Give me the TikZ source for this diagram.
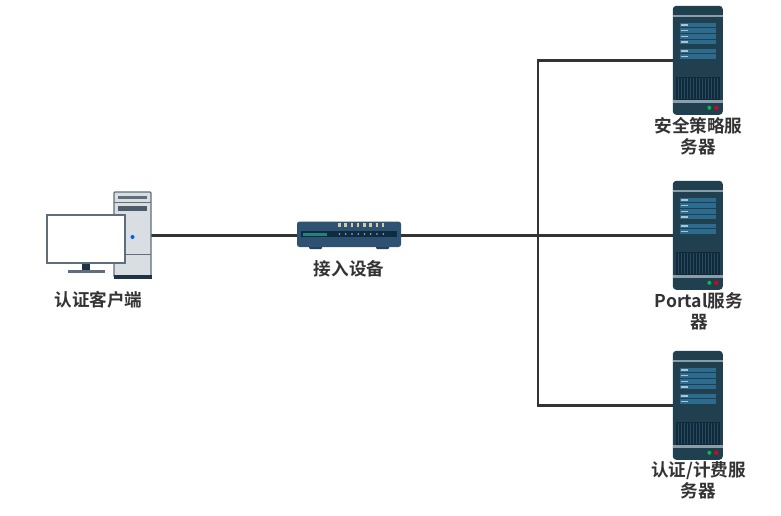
\documentclass[tikz,border=0pt]{standalone}
\usepackage{fontspec}
\setmainfont{Noto Sans CJK SC}[BoldFont={Noto Sans CJK SC Bold}]
\definecolor{srvbody}{HTML}{21404F}
\definecolor{srvdark}{HTML}{12293A}
\definecolor{srvline}{HTML}{8A9DA8}
\definecolor{srvblue}{HTML}{2C6A8E}
\definecolor{srvtick}{HTML}{A9C4D4}
\definecolor{pcgrey}{HTML}{D9DEE3}
\definecolor{pcedge}{HTML}{5F6E7A}
\definecolor{pcdark}{HTML}{1F3347}
\definecolor{swbody}{HTML}{2F5273}
\definecolor{swdark}{HTML}{0E2C3F}
\definecolor{swlamp}{HTML}{D9C9A0}
\definecolor{wire}{HTML}{333333}
\tikzset{
  x=1pt,y=-1pt,
  wirel/.style={draw=wire,line width=2.4pt},
  label text/.style={font=\bfseries\fontsize{17.6}{20.8}\selectfont,text=wire,align=center,inner sep=0pt},
  pics/servericon/.style={code={
    \fill[srvbody,rounded corners=3.5pt] (0,0) rectangle (50,109);
    \fill[srvline] (0,9) rectangle (50,11);
    \fill[srvline] (0,94) rectangle (50,97);
    \foreach \t in {17,28.5,43}{
      \fill[srvblue] (7.5,\t) rectangle (43,\t+4.5);
      \fill[srvblue] (7.5,\t+5.5) rectangle (43,\t+10);
      \fill[srvtick] (8.5,\t+1.5) rectangle (15,\t+3);
      \fill[srvtick] (8.5,\t+7) rectangle (15,\t+8.5);
    }
    \fill[srvdark] (3,71) rectangle (47,94);
    \foreach \k in {0,...,13}{
      \fill[srvbody!70!srvblue] (5.5+3*\k,72) rectangle (6.3+3*\k,93);
    }
    \fill[green!45!teal] (36.5,102) circle (2);
    \fill[red!55!purple] (43.5,102) circle (2);
  }},
  pics/pcicon/.style={code={
    \filldraw[fill=pcgrey,draw=pcedge,line width=1.3pt,rounded corners=1pt] (114,192) rectangle (151,277);
    \fill[pcdark] (113.5,275) rectangle (151.5,279);
    \draw[pcedge,line width=.8pt] (114,202) -- (151,202);
    \fill[pcedge] (118,196) rectangle (147,198.5);
    \fill[pcedge!70!pcdark] (118,205.5) rectangle (147,210.5);
    \draw[pcedge,line width=.8pt] (114,254) -- (151,254);
    \fill[blue!65!cyan] (132.5,237) circle (2);
    \fill[pcdark] (82,262) rectangle (90,270);
    \fill[pcedge] (67.5,270) rectangle (105,272.5);
    \filldraw[fill=white,draw=pcedge,line width=1.4pt] (47,215) rectangle (125,263);
  }},
  pics/switchicon/.style={code={
    \fill[swbody!80!black,rounded corners=1pt] (309,245) rectangle (322,249);
    \fill[swbody!80!black,rounded corners=1pt] (376,245) rectangle (389,249);
    \fill[swbody,rounded corners=2.5pt] (297,221.5) rectangle (401,247);
    \foreach \k in {0,...,7}{
      \fill[swlamp] (338+6.25*\k,222.5) rectangle (340.5+6.25*\k,227);
    }
    \fill[swdark] (301,231) rectangle (397,237);
    \fill[teal!70!gray] (303,232.5) rectangle (327,235.5);
    \foreach \k in {0,...,7}{
      \fill[white!60!swbody] (339.5+6.25*\k,234) circle (.9);
    }
  }},
}
\begin{document}
\begin{tikzpicture}
\useasboundingbox (0,0) rectangle (781,516);
\node[inner sep=0pt,minimum width=104,minimum height=85] (client) at (99,235.5) {};
\node[inner sep=0pt,minimum width=104,minimum height=26] (access) at (349,235.5) {};
\node[inner sep=0pt,minimum width=50,minimum height=109] (s1) at (698,60.5) {};
\node[inner sep=0pt,minimum width=50,minimum height=109] (s2) at (698,235.5) {};
\node[inner sep=0pt,minimum width=50,minimum height=109] (s3) at (698,405.5) {};
\coordinate (hubtop) at (538,60.5);
\coordinate (hubbot) at (538,405.5);
\draw[wirel] (client.east) -- (access.west);
\draw[wirel,line width=3pt] (access.east) -- (538,235.5);
\draw[wirel] (538,235.5) -- (s2.west);
\draw[wirel] (s1.west) -- (hubtop) -- (hubbot) -- (s3.west);
\pic at (0,0) {pcicon};
\pic at (0,0) {switchicon};
\pic at (s1.north west) {servericon};
\pic at (s2.north west) {servericon};
\pic at (s3.north west) {servericon};
\node[label text] (t1) at (98.5,300) {认证客户端};
\node[label text] (t2) at (349,269) {接入设备};
\node[label text] (t3) at (698.5,136) {安全策略服\\务器};
\node[label text] (t4) at (699,311) {Portal服务\\器};
\node[label text] (t5) at (698.5,480) {认证/计费服\\务器};
\end{tikzpicture}
\end{document}
